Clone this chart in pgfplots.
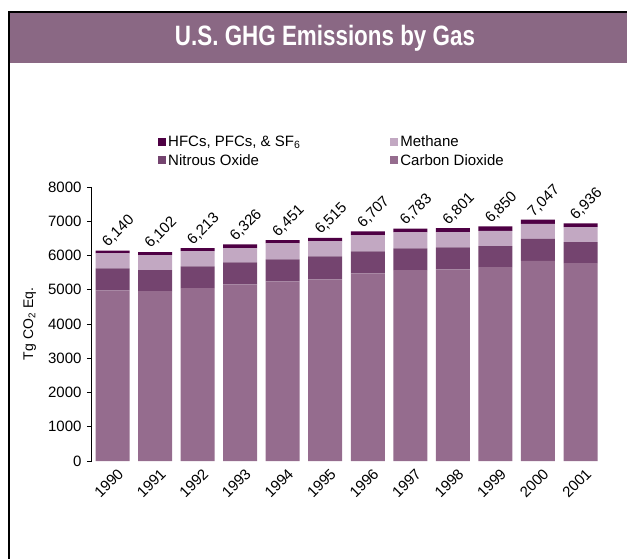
\documentclass[border=0pt]{standalone}
\usepackage{fontspec}
\setmainfont{Liberation Sans}
\newfontfamily\titlefont[FakeStretch=0.8]{Liberation Sans}
\usepackage{pgfplots}
\usepackage{pgfplotstable}
\pgfplotsset{compat=1.18}

\definecolor{band}{RGB}{138,104,132}
\definecolor{co2}{RGB}{149,108,142}
\definecolor{nox}{RGB}{116,68,111}
\definecolor{ch4}{RGB}{194,168,194}
\definecolor{hfc}{RGB}{78,0,68}

% Tg CO2 Eq. per gas; lab = printed total
\pgfplotstableread{
x co2 nox ch4 hfc lab
0 4983 642 438 77 6,140
1 4960 610 440 92 6,102
2 5045 640 440 88 6,213
3 5160 640 410 116 6,326
4 5245 645 465 96 6,451
5 5305 670 440 100 6,515
6 5480 640 470 117 6,707
7 5570 640 465 108 6,783
8 5595 645 440 121 6,801
9 5660 615 445 130 6,850
10 5840 645 440 122 7,047
11 5775 615 440 106 6,936
}\ghg

\begin{document}
\begin{tikzpicture}
\path[use as bounding box] (0pt,0pt) rectangle (627pt,-559pt);
\fill[band] (9pt,-12pt) rectangle (627pt,-63pt);
\draw[line width=1.5pt] (9pt,-559pt) -- (9pt,-12pt) -- (627pt,-12pt);
\node[white,font=\titlefont\bfseries\fontsize{28}{30}\selectfont] at (325pt,-38pt) {U.S. GHG Emissions by Gas};

\begin{axis}[
  at={(92pt,-461pt)}, anchor=south west, scale only axis,
  width=509.8pt, height=274pt,
  ybar stacked, bar width=34pt,
  xmin=-0.482, xmax=11.5, ymin=0, ymax=8000,
  axis lines=left, axis line style={-, line width=1pt},
  x axis line style={draw=none},
  xtick=data, xtick style={draw=none},
  xticklabels={1990,1991,1992,1993,1994,1995,1996,1997,1998,1999,2000,2001},
  xticklabel style={rotate=45, anchor=north east, inner sep=0pt, xshift=2pt, yshift=-4pt, font=\fontsize{15}{17}\selectfont},
  ytick={0,1000,...,8000}, tick align=outside, major tick length=5pt,
  ytick style={line width=1pt, black},
  yticklabel style={font=\fontsize{15}{17}\selectfont, xshift=-2pt, /pgf/number format/assume math mode=true, /pgf/number format/1000 sep={}},
  ylabel={Tg CO\textsubscript{2} Eq.},
  every axis y label/.style={at={(axis description cs:-0.122,0.5)}, rotate=90, anchor=center, font=\fontsize{14}{16}\selectfont},
  reverse legend, legend columns=2,
  legend style={at={(axis description cs:0.1295,1.195)}, anchor=north west, draw=none, fill=none, inner sep=0pt,
    font=\fontsize{15}{17}\selectfont, row sep=2pt,
    /tikz/column 2/.style={column sep=88pt}},
  legend cell align=left,
  legend image code/.code={\fill[#1,draw=none] (0pt,-4pt) rectangle (8pt,4pt);},
]
\addplot[fill=co2, draw=none] table[x=x, y=co2] {\ghg};
\addlegendentry{Carbon Dioxide}
\addplot[fill=nox, draw=none] table[x=x, y=nox] {\ghg};
\addlegendentry{Nitrous Oxide}
\addplot[fill=ch4, draw=none] table[x=x, y=ch4] {\ghg};
\addlegendentry{Methane}
\addplot[fill=hfc, draw=none, nodes near coords, point meta=explicit symbolic,
  every node near coord/.style={xshift=-3pt, yshift=3pt, rotate=45, anchor=south west, inner sep=0pt, black, font=\fontsize{15}{17}\selectfont}]
  table[x=x, y=hfc, meta=lab] {\ghg};
\addlegendentry{HFCs, PFCs, \& SF\textsubscript{6}}
\end{axis}
\end{tikzpicture}
\end{document}
